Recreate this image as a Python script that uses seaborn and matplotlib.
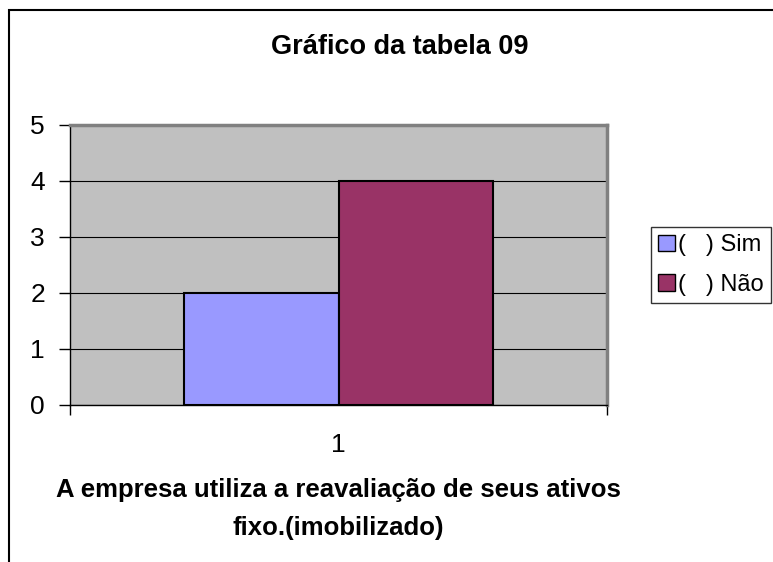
import pandas as pd
import seaborn as sns
from matplotlib import pyplot as plt
from matplotlib.patches import Rectangle

categories = ["1", "1"]
series = ["(   ) Sim", "(   ) Não"]
values = [2, 4]
colors = ["#9999FF", "#993366"]

sns.set_style("white")
plt.rcParams["font.family"] = ["Liberation Sans", "DejaVu Sans"]
plt.rcParams["text.color"] = "black"
plt.rcParams["xtick.color"] = "black"
plt.rcParams["ytick.color"] = "black"

df = pd.DataFrame({"cat": categories, "serie": series, "valor": values})

fig = plt.figure(figsize=(7.73, 5.62), dpi=100)
ax = fig.add_axes([70 / 773, 157 / 562, 537 / 773, 280 / 562])

sns.barplot(data=df, x="cat", y="valor", hue="serie", palette=colors,
            width=0.574, gap=0, edgecolor="black", linewidth=1.5,
            saturation=1, legend=False, ax=ax, zorder=3)

ax.set_facecolor("#C0C0C0")
ax.set_xlim(-0.5, 0.5)
ax.set_ylim(0, 5)
ax.set_yticks(range(0, 6))
ax.yaxis.grid(True, color="black", linewidth=0.8, zorder=1)
ax.set_axisbelow(True)
ax.set_xticks([0])
ax.set_xticklabels(["1"])
# category boundary ticks, like the spreadsheet axis
ax.set_xticks([-0.5, 0.5], minor=True)
ax.tick_params(axis="x", which="minor", length=7, width=1, color="black",
               direction="out", bottom=True)
ax.tick_params(axis="x", labelsize=19, length=0, pad=20)
ax.tick_params(axis="y", labelsize=19, length=8, width=1, color="black", pad=10, left=True)

for side in ["top", "right"]:
    ax.spines[side].set_color("#808080")
    ax.spines[side].set_linewidth(2.5)
for side in ["left", "bottom"]:
    ax.spines[side].set_color("black")
    ax.spines[side].set_linewidth(1)

ax.set_ylabel("")
ax.set_xlabel("")
fig.text(338 / 773, 1 - 478 / 562,
         "A empresa utiliza a reavaliação de seus ativos\nfixo.(imobilizado)",
         ha="center", va="top", fontsize=18.5, fontweight="bold", linespacing=1.75)
fig.text(400 / 773, 1 - 47 / 562, "Gráfico da tabela 09", ha="center", va="center",
         fontsize=19.5, fontweight="bold")

handles = [Rectangle((0, 0), 1, 1, facecolor=c, edgecolor="black", linewidth=1)
           for c in colors]
leg = fig.legend(handles, series, loc="center right",
                 bbox_to_anchor=(771 / 773, 1 - 265 / 562), fontsize=17,
                 frameon=True, fancybox=False, edgecolor="black",
                 handlelength=0.7, handleheight=0.7, handletextpad=0.15,
                 borderpad=0.3, labelspacing=0.75, borderaxespad=0)
leg.get_frame().set_linewidth(1)

fig.patches.append(Rectangle((9 / 773, -0.1), 1.2, 1 - 10 / 562 + 0.1,
                             transform=fig.transFigure, fill=False,
                             edgecolor="black", linewidth=1.5))

fig.savefig("out.png", dpi=100)
